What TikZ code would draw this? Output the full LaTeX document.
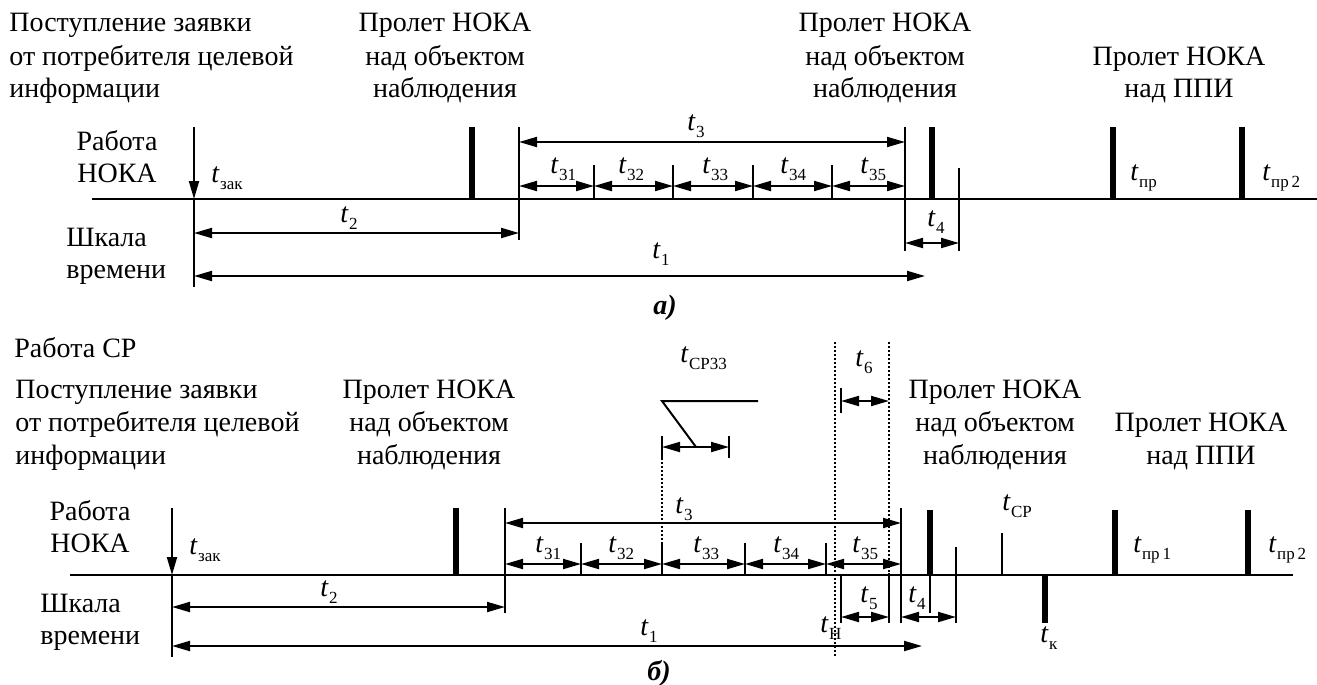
\documentclass[tikz,border=0pt]{standalone}
\usepackage{fontspec}
\setmainfont{Liberation Serif}
\usetikzlibrary{arrows.meta}
\newcommand\tlab[1]{\textit{t}\kern0.2pt\raisebox{-3.5pt}{\fontsize{8.5}{9}\selectfont #1}}
\tikzset{
  txt/.style={font=\fontsize{14}{16}\selectfont, inner sep=0pt, anchor=base},
  txtl/.style={txt, anchor=base west},
  lab/.style={font=\fontsize{14}{16}\selectfont, inner sep=0pt, anchor=base west},
  ln/.style={line width=1pt},
  axisline/.style={line width=1.3pt},
  bar/.style={line width=2.6pt},
  dim/.style={line width=1pt, {Triangle[length=9pt,width=5pt]}-{Triangle[length=9pt,width=5pt]}},
  tip/.style={line width=1pt, -{Triangle[length=9pt,width=5pt]}},
  dots/.style={line width=0.8pt, dash pattern=on 0.8pt off 1.2pt},
}
\begin{document}
\begin{tikzpicture}[x=0.5pt,y=-0.5pt]
\useasboundingbox (0,0) rectangle (1317,685);

% ================= Panel a =================
\node[txtl] (aR1) at (9,32) {Поступление заявки};
\node[txtl] (aR2) at (9,65) {от потребителя целевой};
\node[txtl] (aR3) at (9,97) {информации};
\node[txt] (aP1) at (445,32) {Пролет НОКА};
\node[txt] (aP2) at (445,65) {над объектом};
\node[txt] (aP3) at (445,97) {наблюдения};
\node[txt] (aQ1) at (885,32) {Пролет НОКА};
\node[txt] (aQ2) at (885,65) {над объектом};
\node[txt] (aQ3) at (885,97) {наблюдения};
\node[txt] (aS1) at (1179,65) {Пролет НОКА};
\node[txt] (aS2) at (1179,97) {над ППИ};
\node[txt] (aW1) at (117,150) {Работа};
\node[txt] (aW2) at (117,182) {НОКА};
\node[txtl] (aT1) at (66,246) {Шкала};
\node[txtl] (aT2) at (66,278) {времени};

% axis
\draw[axisline] (92,199) -- (1317,199);
% t_zak
\draw[tip] (194,127) -- (194,199);
\draw[ln] (194,199) -- (194,287);
% bars
\draw[bar] (472,127) -- (472,199);
\draw[bar] (932,127) -- (932,199);
\draw[bar] (1113,127) -- (1113,199);
\draw[bar] (1242,127) -- (1242,199);
% boundaries
\draw[ln] (519,127) -- (519,240);
\draw[ln] (905,127) -- (905,251);
\draw[ln] (959,168) -- (959,251);
\foreach \x in {594,673,753,832} \draw[ln] (\x,165) -- (\x,199);
% dimension arrows
\draw[dim] (519,142) -- (905,142);
\draw[dim] (519,186) -- (594,186);
\draw[dim] (594,186) -- (673,186);
\draw[dim] (673,186) -- (753,186);
\draw[dim] (753,186) -- (832,186);
\draw[dim] (832,186) -- (905,186);
\draw[dim] (194,233) -- (519,233);
\draw[dim] (194,276) -- (925,276);
\draw[dim] (905,243) -- (959,243);
% labels
\node[lab] (aLzak) at (211,182) {\tlab{зак}};
\node[lab] (aL2) at (340,222) {\tlab{2}};
\node[lab] (aL1) at (652,258) {\tlab{1}};
\node[lab] (aL3) at (687,130) {\tlab{3}};
\node[lab] (aL31) at (550,173) {\tlab{31}};
\node[lab] (aL32) at (618,173) {\tlab{32}};
\node[lab] (aL33) at (702,173) {\tlab{33}};
\node[lab] (aL34) at (780,173) {\tlab{34}};
\node[lab] (aL35) at (860,173) {\tlab{35}};
\node[lab] (aL4) at (927,226) {\tlab{4}};
\node[lab] (aLpr) at (1130,180) {\tlab{пр}};
\node[lab] (aLpr2) at (1262,180) {\tlab{пр\,2}};
\node[txt, font=\fontsize{14}{16}\selectfont\bfseries\itshape] (acap) at (665,314) {а)};

% ================= Panel b =================
\node[txtl] (bCP) at (14,357) {Работа СР};
\node[txtl] (bR1) at (15,398) {Поступление заявки};
\node[txtl] (bR2) at (15,431) {от потребителя целевой};
\node[txtl] (bR3) at (15,464) {информации};
\node[txt] (bP1) at (429,398) {Пролет НОКА};
\node[txt] (bP2) at (429,431) {над объектом};
\node[txt] (bP3) at (429,464) {наблюдения};
\node[txt] (bQ1) at (995,398) {Пролет НОКА};
\node[txt] (bQ2) at (995,431) {над объектом};
\node[txt] (bQ3) at (995,464) {наблюдения};
\node[txt] (bS1) at (1201,431) {Пролет НОКА};
\node[txt] (bS2) at (1201,464) {над ППИ};
\node[txt] (bW1) at (90,520) {Работа};
\node[txt] (bW2) at (90,552) {НОКА};
\node[txtl] (bT1) at (40,612) {Шкала};
\node[txtl] (bT2) at (40,644) {времени};

% axis
\draw[axisline] (70,575) -- (1293,575);
% t_zak
\draw[tip] (172,508) -- (172,575);
\draw[ln] (172,575) -- (172,657);
% bars
\draw[bar] (456,508) -- (456,575);
\draw[bar] (930,510) -- (930,575);
\draw[ln] (930,575) -- (930,613);
\draw[bar] (1115,510) -- (1115,575);
\draw[bar] (1248,510) -- (1248,575);
\draw[bar] (1045,575) -- (1045,623);
\draw[ln] (1002,533) -- (1002,575);
% boundaries
\draw[ln] (505,508) -- (505,613);
\draw[ln] (901,508) -- (901,623);
\draw[ln] (956,547) -- (956,623);
\foreach \x in {581,662,745,826} \draw[ln] (\x,543) -- (\x,575);
\draw[ln] (841,575) -- (841,623);
\draw[ln] (889,573) -- (889,623);
% dotted
\draw[dots] (835,342) -- (835,657);
\draw[dots] (889,342) -- (889,573);
\draw[dots] (662,458) -- (662,543);
% t_CP33 marker
\draw[ln] (662,436) -- (662,458);
\draw[ln] (729,436) -- (729,458);
\draw[dim] (662,447) -- (729,447);
\draw[ln] (758,401) -- (662,401) -- (696,447);
% t6
\draw[ln] (841,388) -- (841,413);
\draw[dim] (841,401) -- (889,401);
% dimension arrows
\draw[dim] (505,523) -- (901,523);
\draw[dim] (505,564) -- (581,564);
\draw[dim] (581,564) -- (662,564);
\draw[dim] (662,564) -- (745,564);
\draw[dim] (745,564) -- (826,564);
\draw[dim] (826,564) -- (901,564);
\draw[dim] (172,607) -- (505,607);
\draw[dim] (172,646) -- (922,646);
\draw[dim] (901,617) -- (956,617);
\draw[dim] (841,617) -- (889,617);
% labels
\node[lab] (bLzak) at (189,554) {\tlab{зак}};
\node[lab] (bL2) at (320,596) {\tlab{2}};
\node[lab] (bL1) at (640,635) {\tlab{1}};
\node[lab] (bL3) at (675,513) {\tlab{3}};
\node[lab] (bL31) at (535,552) {\tlab{31}};
\node[lab] (bL32) at (608,552) {\tlab{32}};
\node[lab] (bL33) at (693,552) {\tlab{33}};
\node[lab] (bL34) at (773,552) {\tlab{34}};
\node[lab] (bL35) at (852,552) {\tlab{35}};
\node[lab] (bLcp33) at (680,362) {\tlab{СР33}};
\node[lab] (bL6) at (855,366) {\tlab{6}};
\node[lab] (bL5) at (860,602) {\tlab{5}};
\node[lab] (bL4) at (908,602) {\tlab{4}};
\node[lab] (bLH) at (820,632) {\tlab{Н}};
\node[lab] (bLcp) at (1002,510) {\tlab{СР}};
\node[lab] (bLk) at (1040,642) {\tlab{к}};
\node[lab] (bLpr1) at (1133,552) {\tlab{пр\,1}};
\node[lab] (bLpr2) at (1268,552) {\tlab{пр\,2}};
\node[txt, font=\fontsize{14}{16}\selectfont\bfseries\itshape] (bcap) at (659,680) {б)};
\end{tikzpicture}
\end{document}
